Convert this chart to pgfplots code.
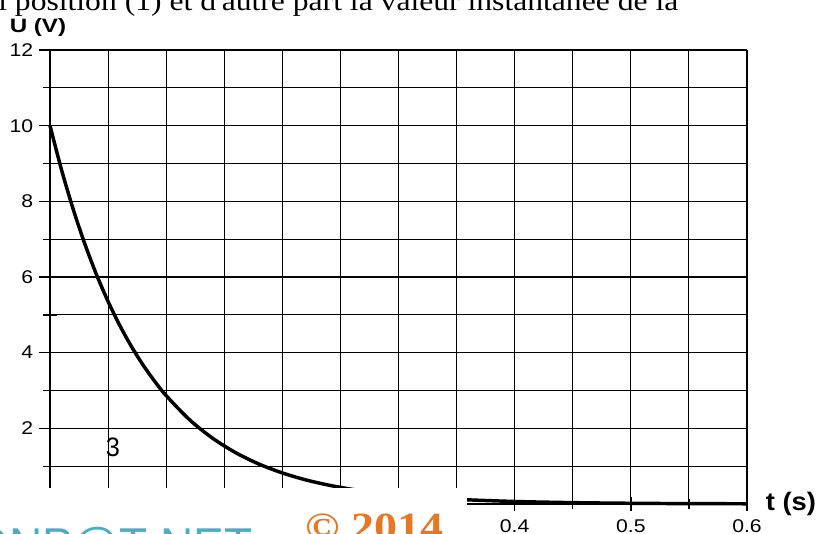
\documentclass[border=0pt]{standalone}
\usepackage{fontspec}
\setmainfont{Liberation Sans}
\newfontfamily\timesf{Liberation Serif}
\usepackage{pgfplots}
\pgfplotsset{compat=1.18}
\definecolor{wmcyan}{RGB}{70,175,195}
\definecolor{wmorange}{RGB}{230,120,35}
\pgfplotstableread{
t U
0.00 10.000
0.01 8.825
0.02 7.788
0.03 6.873
0.04 6.065
0.05 5.353
0.06 4.724
0.07 4.169
0.08 3.679
0.09 3.247
0.10 2.865
0.12 2.231
0.14 1.738
0.16 1.353
0.18 1.054
0.20 0.821
0.22 0.639
0.24 0.498
0.26 0.388
0.28 0.302
0.30 0.235
0.35 0.125
0.40 0.067
0.45 0.036
0.50 0.019
0.55 0.010
0.60 0.006
}\dataU
\begin{document}
\begin{tikzpicture}
\begin{axis}[
  scale only axis, width=522.75pt, height=340.5pt,
  xmin=0, xmax=0.6, ymin=0, ymax=12,
  axis lines=left, axis line style={-, line width=1pt},
  xtick={0.1,0.2,0.3,0.4,0.5,0.6},
  xticklabels={,,,0.4,0.5,0.6},
  minor xtick={0.05,0.15,0.25,0.35,0.45,0.55},
  ytick={2,4,6,8,10,12},
  yticklabels={2,4,6,8,10,12},
  minor ytick={1,3,5,7,9,11},
  grid=both,
  major grid style={black, line width=0.85pt},
  minor grid style={black, line width=0.85pt},
  tick align=center, major tick length=17pt, minor tick length=10pt,
  tick style={black, line width=1pt},
  xtick style={/pgfplots/major tick length=10pt, /pgfplots/minor tick length=7.5pt},
  ticklabel style={font=\fontsize{13.8}{16}\selectfont, xscale=1.15},
  clip=false,
]
\addplot[black, line width=2.6pt, smooth] table[x=t, y=U] {\dataU};
\end{axis}
% watermark cover
\fill[white] (-37.5pt,12pt) rectangle (312.75pt,-30pt);
\node[anchor=base west, text=wmcyan, font=\fontsize{34.5}{40}\selectfont, inner sep=0pt] at (-57.75pt,-42pt) {ONP@T-NET};
\node[anchor=base west, text=wmorange, font=\timesf\bfseries\fontsize{30}{36}\selectfont, xscale=1.15, inner sep=0pt] at (191.25pt,-27pt) {© 2014};
% labels
\node[font=\bfseries\fontsize{14.5}{16}\selectfont, xscale=1.25] at (-9pt,357.5pt) {U (V)};
\node[font=\bfseries\fontsize{19}{22}\selectfont, xscale=1.08] at (555.75pt,0pt) {t (s)};
\node[font=\fontsize{20}{24}\selectfont, xscale=0.95] at (47.25pt,42.75pt) {3};
\node[anchor=base west, font=\timesf\fontsize{20.8}{25}\selectfont, xscale=1.14, inner sep=0pt] at (-39pt,369.75pt) {l position (1) et d'autre part la valeur instantanée de la};
\pgfresetboundingbox
\path[use as bounding box] (-37.5pt,-21.75pt) rectangle (581.25pt,378pt);
\end{tikzpicture}
\end{document}
